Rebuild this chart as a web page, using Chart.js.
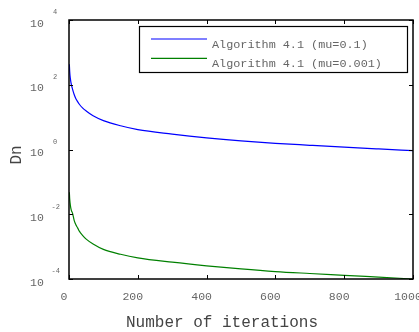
<!DOCTYPE html>
<html>
<head>
<meta charset="utf-8">
<script src="https://cdn.jsdelivr.net/npm/chart.js@4"></script>
<style>
  html, body { margin: 0; padding: 0; background: #fff; }
  #wrap { width: 419px; height: 332px; }
</style>
</head>
<body>
<div id="wrap"><canvas id="grafico" width="419" height="332"></canvas></div>
<script>
// valores
const iteraciones = [1, 2, 3, 5, 7, 10, 15, 20, 25, 30, 40, 50, 70, 100, 150, 200, 300, 400, 500, 600, 700, 800, 900, 1000];
const dnMu01 = [430, 260, 190, 130, 100, 75, 50, 37, 30, 25, 19, 15.5, 11, 7.8, 5.4, 4.1, 3.0, 2.3, 1.85, 1.55, 1.35, 1.18, 1.04, 0.92];
const dnMu0001 = [0.048, 0.03, 0.023, 0.016, 0.013, 0.011, 0.0065, 0.0047, 0.0038, 0.003, 0.0022, 0.0017, 0.0012, 0.00082, 0.00058, 0.00045, 0.00033, 0.000255, 0.000205, 0.00017, 0.000148, 0.00013, 0.000114, 0.0001];
const etiquetas = ['Algorithm 4.1 (mu=0.1)', 'Algorithm 4.1 (mu=0.001)'];
const ticksX = [0, 200, 400, 600, 800, 1000];
const exponentesY = [4, 2, 0, -2, -4];

const mono = '"Liberation Mono", "DejaVu Sans Mono", monospace';

// ejes, ticks y leyenda estilo matlab
const ejesMatlab = {
    id: 'ejesMatlab',
    afterDraw(chart) {
        const ctx = chart.ctx;
        const a = chart.chartArea;
        const sx = chart.scales.x;
        const sy = chart.scales.y;
        ctx.save();
        ctx.strokeStyle = '#000';
        ctx.lineWidth = 1.5;
        ctx.strokeRect(a.left, a.top, a.right - a.left, a.bottom - a.top);

        ctx.lineWidth = 1;
        ctx.beginPath();
        ticksX.forEach(v => {
            const px = Math.round(sx.getPixelForValue(v)) + 0.5;
            ctx.moveTo(px, a.bottom); ctx.lineTo(px, a.bottom - 4);
            ctx.moveTo(px, a.top); ctx.lineTo(px, a.top + 4);
        });
        exponentesY.forEach(e => {
            const py = Math.round(sy.getPixelForValue(Math.pow(10, e))) + 0.5;
            ctx.moveTo(a.left, py); ctx.lineTo(a.left + 4, py);
            ctx.moveTo(a.right, py); ctx.lineTo(a.right - 4, py);
        });
        ctx.stroke();

        // etiquetas eje x
        ctx.fillStyle = '#666';
        ctx.font = '11.5px ' + mono;
        ctx.textAlign = 'center';
        ctx.textBaseline = 'middle';
        ticksX.forEach(v => {
            ctx.fillText(String(v), sx.getPixelForValue(v) - 5, 297);
        });

        // etiquetas eje y
        exponentesY.forEach(e => {
            const py = sy.getPixelForValue(Math.pow(10, e));
            ctx.font = '11.5px ' + mono;
            ctx.textAlign = 'center';
            ctx.fillText('10', 37, py + 3.5);
            ctx.font = '7px ' + mono;
            ctx.textAlign = 'left';
            ctx.fillText(String(e), e < 0 ? 51.5 : 53, py - 7.5);
        });

        // titulos de ejes
        ctx.fillStyle = '#444';
        ctx.font = '16px ' + mono;
        ctx.textAlign = 'center';
        ctx.fillText('Number of iterations', 222, 323);
        ctx.translate(17, 155);
        ctx.rotate(-Math.PI / 2);
        ctx.fillText('Dn', 0, 0);
        ctx.restore();

        // leyenda
        ctx.save();
        ctx.fillStyle = '#fff';
        ctx.fillRect(139.5, 26.5, 268, 46);
        ctx.strokeStyle = '#000';
        ctx.lineWidth = 1.2;
        ctx.strokeRect(139.5, 26.5, 268, 46);
        chart.data.datasets.forEach((ds, i) => {
            const y = 39 + i * 19.3;
            ctx.strokeStyle = ds.borderColor;
            ctx.lineWidth = 1.2;
            ctx.beginPath();
            ctx.moveTo(151, y); ctx.lineTo(207, y);
            ctx.stroke();
            ctx.fillStyle = '#666';
            ctx.font = '11.8px ' + mono;
            ctx.textAlign = 'left';
            ctx.textBaseline = 'middle';
            ctx.fillText(ds.label, 212, y + 6);
        });
        ctx.restore();
    }
};

const ctx = document.getElementById('grafico').getContext('2d');
new Chart(ctx, {
    type: 'line',
    data: {
        datasets: [{
            label: etiquetas[0],
            data: iteraciones.map((n, i) => ({ x: n, y: dnMu01[i] })),
            borderColor: '#0000ff',
            borderWidth: 1.2,
            pointRadius: 0,
            cubicInterpolationMode: 'monotone'
        }, {
            label: etiquetas[1],
            data: iteraciones.map((n, i) => ({ x: n, y: dnMu0001[i] })),
            borderColor: '#008000',
            borderWidth: 1.2,
            pointRadius: 0,
            cubicInterpolationMode: 'monotone'
        }]
    },
    options: {
        responsive: false,
        animation: false,
        layout: { padding: { left: 69, top: 20, right: 6, bottom: 53 } },
        plugins: { legend: { display: false }, tooltip: { enabled: false } },
        scales: {
            x: { type: 'linear', min: 0, max: 1000, display: false },
            y: { type: 'logarithmic', min: 1e-4, max: 1e4, display: false }
        }
    },
    plugins: [ejesMatlab]
});
</script>
</body>
</html>
